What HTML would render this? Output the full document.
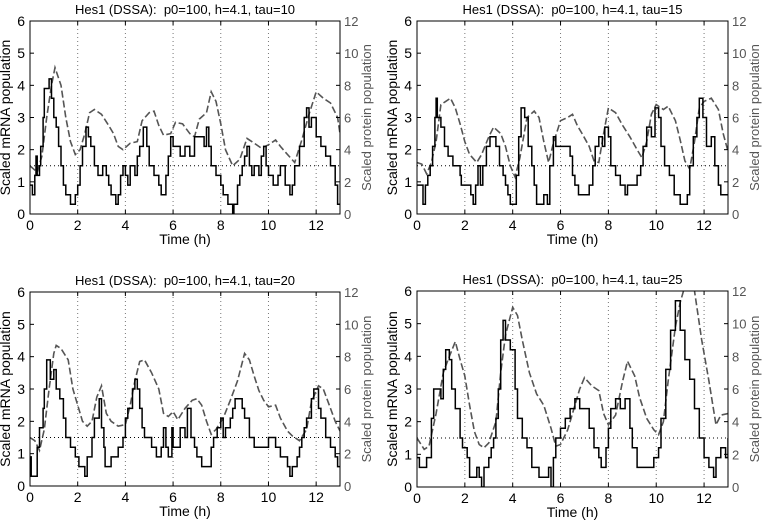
<!DOCTYPE html>
<html><head><meta charset="utf-8"><style>
body{margin:0;background:#fff}
svg{display:block;font-family:"Liberation Sans",Arial,sans-serif}
text{white-space:pre}
</style></head><body>
<svg id="chart" width="765" height="520" viewBox="0 0 765 520" xmlns="http://www.w3.org/2000/svg"></svg>
<script>
const xTicks=[0,2,4,6,8,10,12];
const yLeftTicks=[0,1,2,3,4,5,6];
const yRightTicks=[0,2,4,6,8,10,12];
const thresholdLevel=1.5;
const panelTitles=["Hes1 (DSSA):  p0=100, h=4.1, tau=10","Hes1 (DSSA):  p0=100, h=4.1, tau=15","Hes1 (DSSA):  p0=100, h=4.1, tau=20","Hes1 (DSSA):  p0=100, h=4.1, tau=25"];

const p1MrnaT=[0,0.1,0.2,0.25,0.3,0.4,0.45,0.55,0.6,0.8,0.9,1.0,1.1,1.2,1.3,1.4,1.5,1.7,1.9,2.0,2.1,2.2,2.35,2.45,2.55,2.7,2.85,3.05,3.2,3.3,3.4,3.6,3.7,3.8,3.9,4.0,4.1,4.2,4.4,4.5,4.6,4.75,4.9,5.0,5.2,5.4,5.5,5.7,5.8,5.9,6.0,6.3,6.5,6.7,6.9,7.3,7.4,7.5,7.6,7.8,8.0,8.1,8.3,8.5,8.55,8.7,8.8,8.9,9.0,9.1,9.2,9.3,9.4,9.6,9.7,9.8,9.9,10.0,10.2,10.4,10.5,10.7,10.9,11.0,11.1,11.3,11.5,11.6,11.7,11.8,12.0,12.2,12.4,12.6,12.8,12.9,13];
const p1MrnaV=[0.9,0.6,1.2,1.8,1.2,1.5,2.1,3.0,3.9,4.2,3.6,3.0,2.7,2.1,1.5,0.9,0.6,0.3,0.6,0.9,1.5,2.1,2.7,2.4,2.1,1.5,1.2,1.5,1.2,0.9,0.6,0.3,0.6,1.2,1.5,1.2,0.9,1.5,1.2,1.8,2.1,2.7,2.1,1.5,1.2,0.9,0.6,1.2,1.8,2.4,2.1,1.8,2.1,1.8,2.4,2.1,2.7,2.1,1.5,1.2,0.9,0.6,0.3,0,0.3,0.9,1.2,1.5,1.8,2.1,1.5,1.2,1.5,1.2,1.8,2.1,1.5,1.2,0.9,1.2,1.5,0.9,0.6,0.9,1.5,2.1,3.0,3.3,2.7,3.0,2.4,2.1,1.8,1.5,0.9,0.3,0.3];
const p1ProtT=[0,0.3,0.5,0.7,0.9,1.05,1.3,1.5,1.7,1.9,2.1,2.3,2.5,2.7,3.0,3.3,3.5,3.7,3.9,4.2,4.5,4.7,5.0,5.2,5.4,5.6,5.9,6.1,6.4,6.7,6.9,7.1,7.4,7.6,7.8,8.0,8.2,8.5,8.8,9.1,9.4,9.7,10.0,10.3,10.5,10.8,11.1,11.4,11.7,12.0,12.3,12.6,12.9,13];
const p1ProtV=[3.0,2.6,3.6,6,8,9.1,8,6,4.5,3.7,4,5,6.3,6.5,6.2,5.5,5,4.2,4.0,4.4,4.5,5.8,6.3,6.4,5.5,4.9,5,5.7,5.6,5,4.8,5.9,6.3,7.6,7.0,5.6,4,3.0,3.4,4.7,4.4,4.1,4.3,4.6,4.2,3.7,3.2,4.6,6.2,7.6,7.2,6.9,6.0,5.0];

const p2MrnaT=[0,0.25,0.35,0.45,0.55,0.65,0.75,0.8,0.85,1.0,1.15,1.3,1.5,1.8,1.85,2.25,2.35,2.45,2.55,2.65,2.75,2.9,3.05,3.3,3.45,3.6,3.7,3.8,3.9,4.15,4.25,4.35,4.5,4.65,4.8,4.9,5.0,5.3,5.45,5.55,5.7,5.8,6.2,6.4,6.5,6.6,6.75,7.2,7.35,7.45,7.6,7.75,7.85,8.0,8.1,8.3,8.5,8.7,8.8,9.2,9.35,9.45,9.6,9.8,9.95,10.1,10.2,10.35,10.55,10.75,11.0,11.3,11.4,11.55,11.7,11.8,11.95,12.1,12.3,12.45,12.6,12.7,13];
const p2MrnaV=[0.9,0.3,0.9,1.2,1.5,2.1,3.0,3.6,3.0,2.7,2.1,1.8,1.5,1.2,0.9,0.6,0.3,0.9,1.5,0.9,1.5,2.1,2.4,2.1,1.5,1.2,0.9,0.6,0.3,1.2,2.4,3.3,3.0,2.1,1.5,0.9,0.3,0.6,0.3,1.5,2.4,2.1,2.1,1.8,1.2,0.9,0.6,0.9,1.5,2.1,2.4,2.1,2.7,2.4,1.5,1.2,0.9,0.6,0.9,1.2,1.5,2.1,2.7,2.4,3.3,3.0,2.1,1.5,1.2,0.6,0.3,0.6,1.5,2.4,3.0,3.6,3.0,2.1,2.4,1.5,0.9,0.6,0.6];
const p2ProtT=[0,0.2,0.4,0.6,0.8,1.0,1.2,1.4,1.6,1.8,2.0,2.2,2.5,2.7,3.0,3.2,3.5,3.7,3.9,4.1,4.3,4.6,4.9,5.1,5.3,5.5,5.7,6.0,6.3,6.5,6.7,6.9,7.2,7.4,7.6,7.8,8.0,8.3,8.6,8.9,9.2,9.4,9.6,9.8,10.0,10.3,10.5,10.8,11.0,11.2,11.4,11.6,11.8,12.0,12.3,12.6,12.8,13];
const p2ProtV=[3.2,3.1,2.5,3.2,4.5,6.8,7.0,7.2,6.6,5.6,4.5,3.7,3.2,3.7,4.8,5.4,5,4.2,3,2.3,3.5,6,6.4,6.0,4.5,3.2,4.4,5.8,6.0,6.2,5.5,5.0,4.2,3.3,3.2,5,6.6,6.3,5.5,4.8,4.0,3.5,4.5,6.2,6.8,6.5,6.7,5.8,4.6,3.3,2.8,4.5,6.6,7.0,7.2,6.5,5,3.9];

const p3MrnaT=[0,0.05,0.3,0.4,0.55,0.6,0.7,0.85,1.0,1.1,1.25,1.4,1.5,1.7,1.9,2.05,2.3,2.4,2.6,2.7,2.9,3.0,3.1,3.15,3.4,3.7,3.9,4.0,4.1,4.3,4.4,4.5,4.6,4.7,4.8,5.1,5.3,5.5,5.6,5.7,5.8,5.95,6.0,6.3,6.5,6.6,6.75,6.9,7.0,7.2,7.6,7.7,7.85,8.0,8.1,8.2,8.4,8.5,8.6,8.9,9.0,9.2,9.4,10.0,10.3,10.5,10.8,10.9,11.0,11.2,11.3,11.4,11.5,11.6,11.8,11.9,12.1,12.2,12.4,12.6,12.8,12.9,13];
const p3MrnaV=[0.9,0.3,1.2,1.8,2.4,3.0,3.9,3.3,3.6,3.0,2.7,2.1,1.5,1.2,0.9,0.6,0.3,0.9,1.5,2.1,2.7,1.8,1.2,0.6,0.9,1.2,1.5,2.1,2.4,3.0,3.3,3.0,2.4,1.8,1.5,1.2,0.9,1.2,1.8,1.2,0.9,1.8,1.2,1.8,1.5,2.4,1.5,1.2,0.9,0.6,1.2,1.5,1.8,2.1,1.5,1.8,2.1,2.4,2.7,2.4,2.1,1.5,1.2,1.5,1.2,0.9,0.6,0.3,0.6,0.9,1.2,1.5,1.8,2.1,2.7,3.0,2.4,2.1,1.5,1.2,0.9,0.6,0.6];
const p3ProtT=[0,0.2,0.4,0.6,0.8,1.0,1.1,1.3,1.6,1.8,2.0,2.2,2.4,2.6,2.8,3.0,3.2,3.4,3.7,4.0,4.2,4.4,4.6,4.8,5.1,5.4,5.6,5.8,6.0,6.2,6.5,6.8,7.0,7.2,7.4,7.6,7.8,8.1,8.4,8.7,9.0,9.2,9.4,9.6,9.8,10.0,10.3,10.5,10.8,11.0,11.3,11.6,11.8,12.1,12.3,12.6,12.8,13];
const p3ProtV=[3.0,2.8,2.2,3.5,6,8.2,8.7,8.5,7.8,6,5,4,3.7,4,5.5,6.2,4.5,4.0,3.7,3.8,5,6.5,7.7,7.8,7.0,6,4.5,4.3,4.6,4.1,4.8,5.3,5.4,5,4,3.2,3.5,4.2,5.3,6.5,8.2,7.8,6.8,5.9,5.3,4.9,5.0,4.2,3.4,3.1,2.8,3.5,5.2,6.2,6.0,4.8,4.0,3.4];

const p4MrnaT=[0,0.1,0.4,0.6,0.7,1.0,1.1,1.2,1.35,1.45,1.6,1.8,1.9,2.1,2.2,2.5,2.6,2.7,2.8,3.0,3.1,3.2,3.3,3.4,3.5,3.6,3.7,3.9,4.1,4.2,4.4,4.6,4.8,5.1,5.5,5.6,5.7,5.8,6.0,6.2,6.4,6.6,6.8,7.2,7.4,7.6,7.7,7.9,8.0,8.1,8.3,8.5,8.7,8.9,9.0,9.2,9.9,10.1,10.2,10.4,10.6,10.8,11.0,11.2,11.4,11.6,11.8,12.0,12.2,12.4,12.5,12.7,12.9,13];
const p4MrnaV=[0.9,0.6,0.9,2.1,3.0,2.7,3.6,4.2,3.9,3.0,2.4,1.5,1.2,0.9,0.3,0.6,0.3,0,0.6,0.9,1.2,1.5,2.1,3.0,4.5,5.1,4.5,4.2,3.0,2.1,1.5,1.2,0.6,0.3,0.6,0,0.9,1.5,1.8,2.1,2.4,2.7,2.4,1.8,1.2,0.9,0.6,1.2,1.8,2.4,2.7,2.4,2.7,1.8,1.2,0.6,0.9,1.2,2.1,3.6,4.8,5.7,4.8,3.9,3.3,2.4,1.5,0.9,0.6,0.3,0.9,1.2,0.9,1.5];
const p4ProtT=[0,0.3,0.5,0.8,1.1,1.3,1.6,1.8,2.0,2.2,2.4,2.6,2.8,3.0,3.3,3.5,3.7,4.0,4.2,4.4,4.7,5.0,5.3,5.6,5.8,6.0,6.3,6.6,6.8,7.0,7.3,7.6,7.8,8.0,8.3,8.6,8.8,9.1,9.3,9.6,9.9,10.1,10.3,10.5,10.8,11.0,11.2,11.6,11.9,12.2,12.5,12.7,13];
const p4ProtV=[3,2.3,2.5,4.5,7,7.8,8.9,7.8,6.8,5,3.4,2.6,2.4,2.7,4,7,9.3,11,10.5,9,7,5.7,5,3.6,2.5,2.6,3.5,5,6,6.7,6.2,5.9,4.5,3.8,4.4,6.5,7.7,6.8,5.5,4.2,3.5,3.2,4,6.5,9.8,11.3,12.5,12,9,6.5,3.8,4.4,4.5];

const panels=[
 {x0:30,x1:340,y0:214,y1:21,title:panelTitles[0],mt:p1MrnaT,mv:p1MrnaV,pt:p1ProtT,pv:p1ProtV},
 {x0:417,x1:728,y0:214,y1:21,title:panelTitles[1],mt:p2MrnaT,mv:p2MrnaV,pt:p2ProtT,pv:p2ProtV},
 {x0:30,x1:340,y0:486,y1:292,title:panelTitles[2],mt:p3MrnaT,mv:p3MrnaV,pt:p3ProtT,pv:p3ProtV},
 {x0:417,x1:728,y0:487,y1:291,title:panelTitles[3],mt:p4MrnaT,mv:p4MrnaV,pt:p4ProtT,pv:p4ProtV}
];
const NS="http://www.w3.org/2000/svg";
const svg=document.getElementById('chart');
function mk(tag,attrs,parent,text){const e=document.createElementNS(NS,tag);for(const k in attrs)e.setAttribute(k,attrs[k]);if(text!==undefined)e.textContent=text;parent.appendChild(e);return e;}
panels.forEach((p,i)=>{
 const g=mk('g',{},svg);
 
 
 const sx=t=>p.x0+(t/13)*(p.x1-p.x0);
 const syL=v=>p.y0-(v/6)*(p.y0-p.y1);
 const syR=v=>p.y0-(Math.min(v,12.3)/12)*(p.y0-p.y1);
 const cid='clip'+i;
 const cp=mk('clipPath',{id:cid},g);mk('rect',{x:p.x0,y:p.y1,width:p.x1-p.x0,height:p.y0-p.y1},cp);
 xTicks.forEach(t=>{if(t>0){const l=mk('line',{x1:sx(t),x2:sx(t),y1:p.y0,y2:p.y1,stroke:'#777','stroke-width':1,'stroke-dasharray':'1,3'},g);}});
 const th=mk('line',{x1:p.x0,x2:p.x1,y1:syL(thresholdLevel),y2:syL(thresholdLevel),stroke:'#000','stroke-width':1,'stroke-dasharray':'1,3'},g);
 
 let d='';p.pt.forEach((t,k)=>{d+=(k?'L':'M')+sx(t).toFixed(1)+','+syR(p.pv[k]).toFixed(1);});
 const pl=mk('path',{d:d,fill:'none',stroke:'#555','stroke-width':1.6,'stroke-dasharray':'7,3','clip-path':'url(#'+cid+')'},g);
 
 let m='';p.mt.forEach((t,k)=>{const x=sx(t).toFixed(1),y=syL(p.mv[k]).toFixed(1);if(k===0)m+='M'+x+','+y;else m+='H'+x+'V'+y;});
 const ml=mk('path',{d:m,fill:'none',stroke:'#000','stroke-width':1.5,'clip-path':'url(#'+cid+')'},g);
 
 const fr=mk('rect',{x:p.x0,y:p.y1,width:p.x1-p.x0,height:p.y0-p.y1,fill:'none',stroke:'#000','stroke-width':1},g);
 
 xTicks.forEach(t=>{mk('line',{x1:sx(t),x2:sx(t),y1:p.y0,y2:p.y0-4,stroke:'#000'},g);mk('line',{x1:sx(t),x2:sx(t),y1:p.y1,y2:p.y1+4,stroke:'#000'},g);
  const tx=mk('text',{x:sx(t),y:p.y0+16,'font-size':14,'text-anchor':'middle'},g,String(t));});
 yLeftTicks.forEach(v=>{mk('line',{x1:p.x0,x2:p.x0+4,y1:syL(v),y2:syL(v),stroke:'#000'},g);
  const tx=mk('text',{x:p.x0-5,y:syL(v)+5,'font-size':14,'text-anchor':'end'},g,String(v));});
 yRightTicks.forEach(v=>{mk('line',{x1:p.x1,x2:p.x1-4,y1:syR(v),y2:syR(v),stroke:'#000'},g);
  const tx=mk('text',{x:p.x1+4,y:syR(v)+5,'font-size':13,fill:'#555'},g,String(v));});
 const cx=(p.x0+p.x1)/2, cy=(p.y0+p.y1)/2;
 const tt=mk('text',{x:cx,y:p.y1-7,'font-size':13,'text-anchor':'middle'},g,p.title);
 const xl=mk('text',{x:cx,y:p.y0+30,'font-size':14,'text-anchor':'middle'},g,'Time (h)');
 const yl=mk('text',{x:0,y:0,'font-size':14,'text-anchor':'middle',transform:'translate('+(p.x0-20)+','+cy+') rotate(-90)'},g,'Scaled mRNA population');
 const yr=mk('text',{x:0,y:0,'font-size':13,'text-anchor':'middle',fill:'#555',transform:'translate('+(p.x1+31)+','+cy+') rotate(-90)'},g,'Scaled protein population');
});
</script>
</body></html>
